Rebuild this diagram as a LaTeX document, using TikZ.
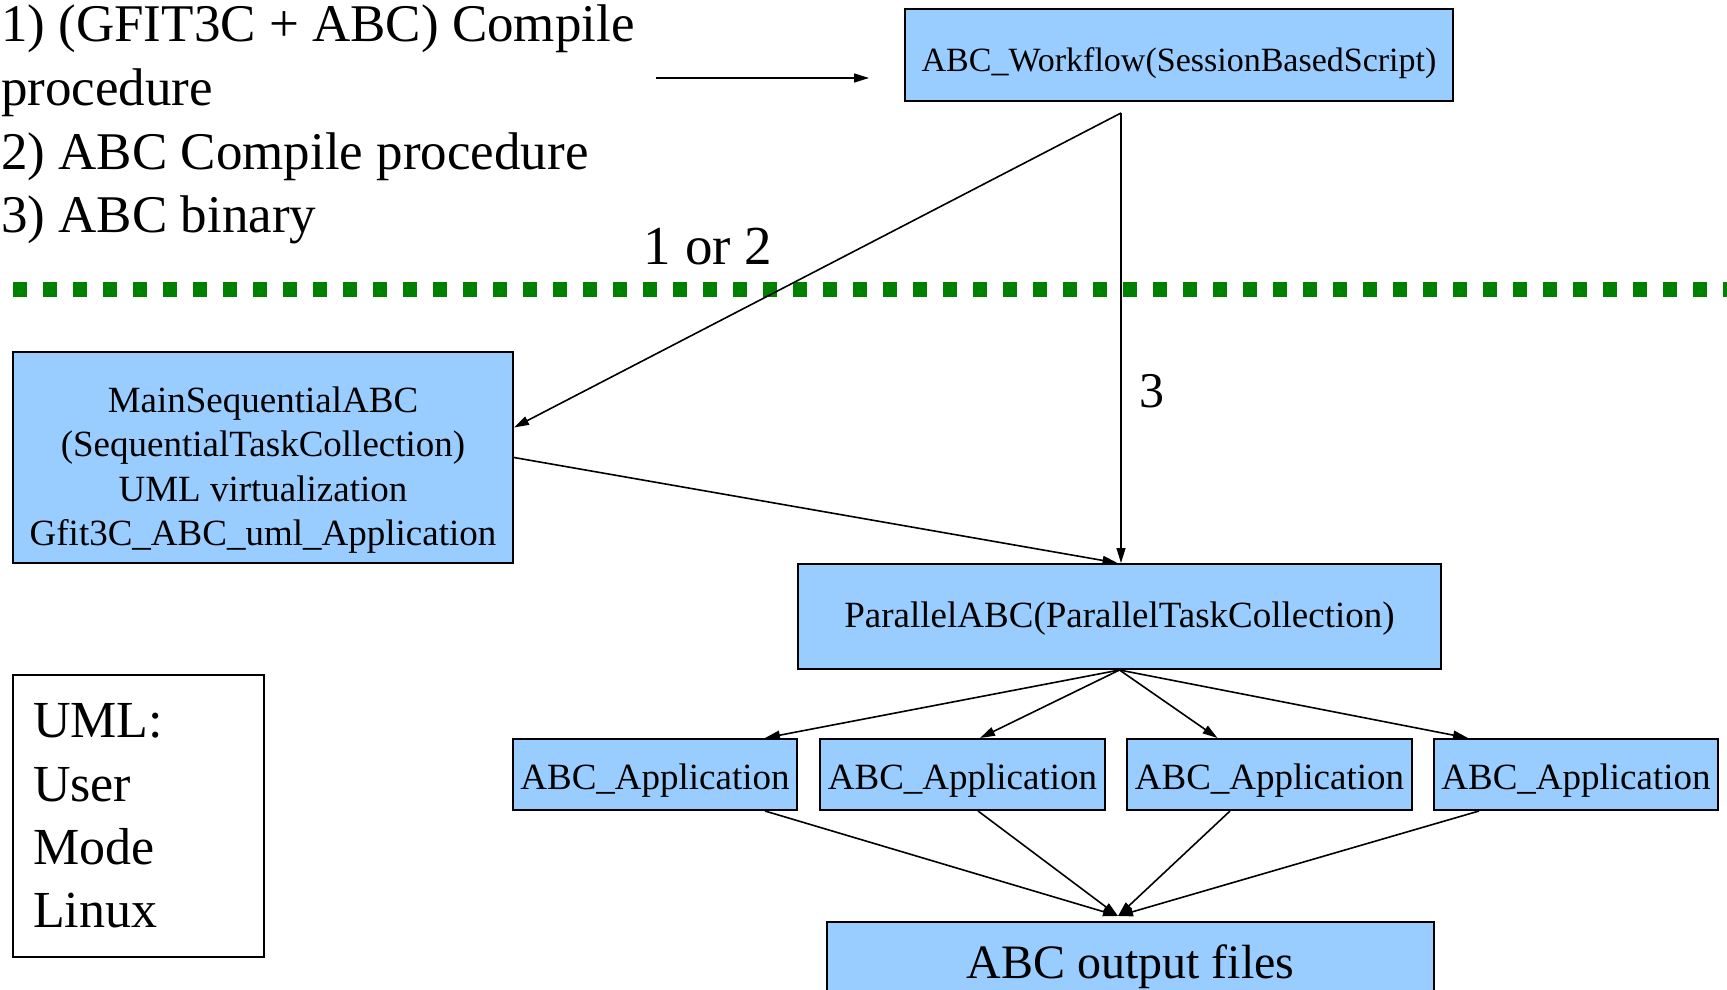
\documentclass[tikz,border=0pt]{standalone}
\usepackage{fontspec}
\setmainfont{Liberation Serif}
\usetikzlibrary{arrows.meta}
\definecolor{boxblue}{HTML}{99CCFF}
\definecolor{sepgreen}{HTML}{008000}

\begin{document}
\begin{tikzpicture}[x=1pt,y=-1pt,
  blockbox/.style={draw=black,line width=2pt,fill=boxblue,inner sep=0pt,align=center},
  appbox/.style={blockbox,minimum width=285pt,minimum height=71pt,text height=30pt,text depth=0pt,
    font=\fontsize{37}{44}\selectfont},
  link/.style={line width=1.6pt,-{Triangle[length=15pt,width=9pt]}},
  bigtext/.style={inner sep=0pt,anchor=base west,font=\fontsize{53}{64}\selectfont}]
\clip (0,0) rectangle (1727,990);

% compile options (top left)
\node[bigtext] (opt1) at (1,42) {1) (GFIT3C + ABC) Compile};
\node[bigtext] (opt1b) at (1,105.5) {procedure};
\node[bigtext] (opt2) at (1,169) {2) ABC Compile procedure};
\node[bigtext] (opt3) at (1,232.5) {3) ABC binary};

% workflow
\node[blockbox,minimum width=548pt,minimum height=92pt,text height=33pt,text depth=0pt,
  font=\fontsize{34}{40}\selectfont] (wf) at (1179,55) {ABC\_Workflow(SessionBasedScript)};

% separator
\draw[sepgreen,line width=15pt,dash pattern=on 14pt off 16pt] (13,289) -- (1727,289);

% sequential collection
\node[blockbox,minimum width=500pt,minimum height=211pt,font=\fontsize{37}{44.5}\selectfont] (seq)
  at (263,457.5) {\rule{0pt}{51pt}MainSequentialABC\\(SequentialTaskCollection)\\UML virtualization\\Gfit3C\_ABC\_uml\_Application};

% parallel collection
\node[blockbox,minimum width=643pt,minimum height=105pt,text height=26pt,text depth=5pt,
  font=\fontsize{37}{44}\selectfont] (par) at (1119.5,616.5) {ParallelABC(ParallelTaskCollection)};

% applications
\node[appbox,minimum width=284pt] (app1) at (655,774.5) {ABC\_Application};
\node[appbox] (app2) at (962.5,774.5) {ABC\_Application};
\node[appbox] (app3) at (1269.5,774.5) {ABC\_Application};
\node[appbox,minimum width=284pt] (app4) at (1576,774.5) {ABC\_Application};

% output
\node[blockbox,minimum width=607pt,minimum height=78pt,text height=34pt,text depth=0pt,
  font=\fontsize{48}{56}\selectfont] (out) at (1130.5,961) {ABC output files};

% legend
\node[draw=black,line width=2pt,fill=white,inner xsep=20pt,inner ysep=0pt,minimum height=282pt,
  text width=211pt,align=left,font=\fontsize{52}{63.3}\selectfont] (uml) at (138.5,816)
  {UML:\\User\\Mode\\Linux};

% connectors
\coordinate (src) at (656,78);
\coordinate (split) at (1121,113);
\coordinate (merge) at (1118,916);

\draw[link] (src) -- ([xshift=-35pt,yshift=-23pt]wf.west);
\draw[link] (split) -- ([yshift=30pt]seq.east);
\draw[link,line width=1.2pt] (split) -- (split |- par.north);
\draw[link] (seq.east) -- ([xshift=-2pt]par.north);

\node[inner sep=0pt,anchor=base,font=\fontsize{55}{64}\selectfont] (lbl12) at (708,264) {1 or 2};
\node[inner sep=0pt,anchor=base,font=\fontsize{50}{60}\selectfont] (lbl3) at (1152,407) {3};

\draw[link] (par.south) -- ([xshift=110pt]app1.north);
\draw[link] (par.south) -- ([xshift=17.5pt]app2.north);
\draw[link] (par.south) -- ([xshift=-52pt]app3.north);
\draw[link] (par.south) -- ([xshift=-108pt]app4.north);

\draw[link] ([xshift=110pt]app1.south) -- (merge);
\draw[link] ([xshift=15.5pt]app2.south) -- (merge);
\draw[link] ([xshift=-39.5pt]app3.south) -- (merge);
\draw[link] ([xshift=-97pt]app4.south) -- (merge);
\end{tikzpicture}
\end{document}
